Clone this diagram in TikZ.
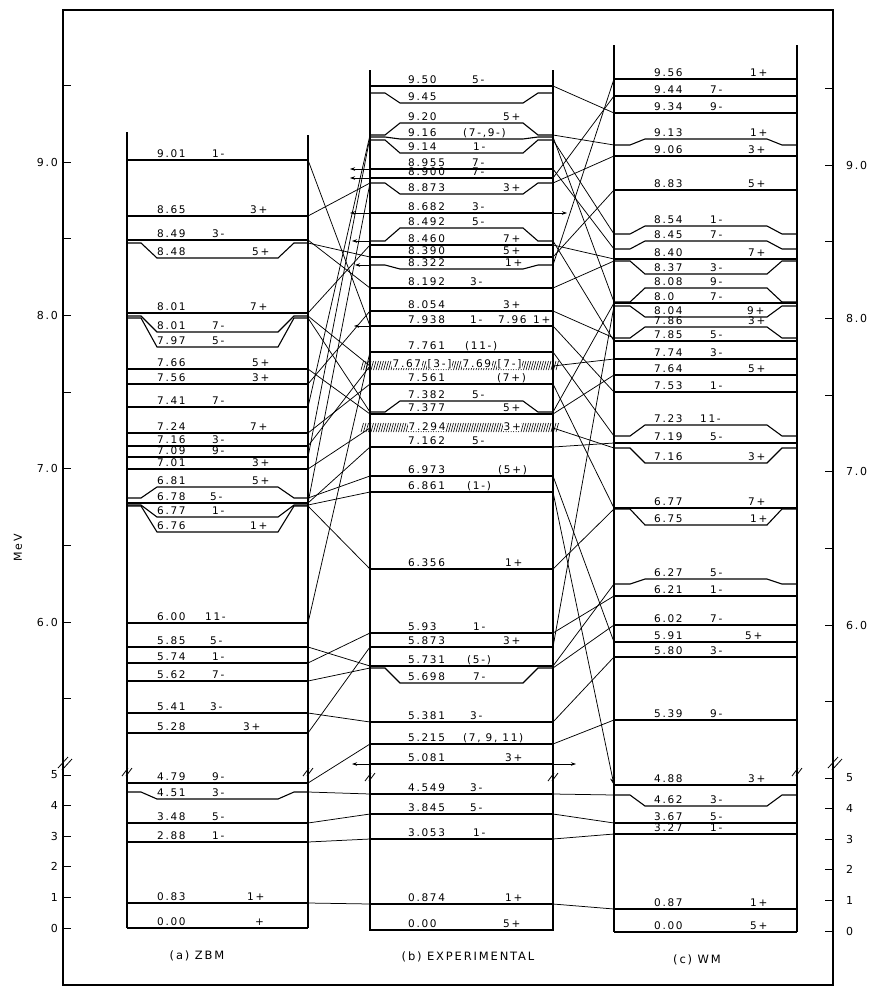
\documentclass[tikz,border=0pt]{standalone}
\usepackage{fontspec}
\newfontfamily\leroy[LetterSpace=16]{DejaVu Sans}
\usetikzlibrary{arrows.meta}

\begin{document}
\begin{tikzpicture}[x=1pt,y=-1pt,
  lvl/.style={line width=1.1pt},
  conn/.style={line width=0.75pt},
  colline/.style={line width=1.4pt},
  elab/.style={anchor=base west,inner sep=0pt,font=\leroy\fontsize{10.5}{12}\selectfont},
  hlab/.style={elab,fill=white,inner sep=0.5pt},
  axlab/.style={inner sep=0pt,font=\leroy\fontsize{11}{12}\selectfont},
  captxt/.style={inner sep=0pt,font=\leroy\fontsize{11.5}{12}\selectfont},
  brk/.style={line width=0.8pt},
  outarrow/.style={-{Stealth[length=5pt,width=3.5pt]}}]
\useasboundingbox (0,0) rectangle (891,988);

% frame and energy scales
\draw[colline] (63,10) rectangle (833,985);
\foreach \t in {85.3,162,238.7,315.3,392,468.7,545.3,622,698.7,775,805.6,836.2,866.8,897.4,928}{
  \draw[line width=0.8pt] (63,\t) -- (71,\t);
  \draw[line width=0.8pt] (825,\t+3) -- (833,\t+3);
}
\foreach \v/\t in {9.0/162,8.0/315.3,7.0/468.7,6.0/622,5/775,4/805.6,3/836.2,2/866.8,1/897.4,0/928}{
  \node[axlab,anchor=east] at (58,\t) {\v};
  \node[axlab,anchor=west] at (846,\t+3) {\v};
}
\node[axlab,rotate=90] (mev) at (18,548) {MeV};
\draw[brk] (58,768) -- (68,757);
\draw[brk] (62,770) -- (72,759);
\draw[brk] (828,768) -- (838,757);
\draw[brk] (832,770) -- (842,759);

% columns
\draw[colline] (127,132) -- (127,928);
\draw[colline] (308,135) -- (308,928);
\draw[colline] (370,70) -- (370,931);
\draw[colline] (553,70) -- (553,931);
\draw[colline] (614,45) -- (614,932);
\draw[colline] (797,45) -- (797,932);
\foreach \bx/\by in {127/772,308/772,370/777,553/777,797/772}{
  \draw[brk] (\bx-5,\by+4) -- (\bx+1,\by-4);
  \draw[brk] (\bx-1,\by+4) -- (\bx+5,\by-4);
}

% (a) ZBM levels: name/edge y/shown y/energy/spin/spin x
\foreach \n/\y/\d/\e/\s/\sx in {
  901/160/160/9.01/1-/212, 865/216/216/8.65/3+/250, 849/240/240/8.49/3-/212,
  848/243/258/8.48/5+/252, 801p/313/313/8.01/7+/250, 801m/316/332/8.01/7-/212,
  797/318/347/7.97/5-/212, 766/369/369/7.66/5+/252, 756/384/384/7.56/3+/252,
  741/407/407/7.41/7-/212, 724/433/433/7.24/7+/250, 716/446/446/7.16/3-/212,
  709/457/457/7.09/9-/212, 701/469/469/7.01/3+/252, 681/498/487/6.81/5+/252,
  678/503/503/6.78/5-/210, 677/505/517/6.77/1-/212, 676/506/532/6.76/1+/250,
  600/623/623/6.00/11-/205, 585/647/647/5.85/5-/210, 574/663/663/5.74/1-/212,
  562/681/681/5.62/7-/212, 541/713/713/5.41/3-/210, 528/733/733/5.28/3+/243,
  479/783/783/4.79/9-/212, 451/792/799/4.51/3-/212, 348/823/823/3.48/5-/212,
  288/842/842/2.88/1-/212, 083/903/903/0.83/1+/247, 000/928/928/0.00/+/255}{
  \draw[lvl] (127,\y) -- (141,\y) -- (157,\d) -- (278,\d) -- (294,\y) -- (308,\y);
  \coordinate (aL\n) at (127,\y);
  \coordinate (aR\n) at (308,\y);
  \node[elab] at (157,\d-3) {\e};
  \node[elab] at (\sx,\d-3) {\s};
}

% (b) experimental levels
\foreach \n/\y/\d/\e/\s/\sx in {
  950/86/86/9.50/5-/472, 945/93/103/9.45/{}/472, 920/135/123/9.20/5+/503,
  916/137/139/9.16/{(7-,9-)}/463, 914/140/153/9.14/1-/473,
  8955/169/169/8.955/7-/472, 8900/178/178/8.900/7-/472, 8873/183/194/8.873/3+/503,
  8682/213/213/8.682/3-/472, 8492/241/228/8.492/5-/472, 8460/245/245/8.460/7+/503,
  8390/257/257/8.390/5+/503, 8322/265/269/8.322/1+/505, 8192/288/288/8.192/3-/470,
  8054/311/311/8.054/3+/503, 7938/326/326/7.938/1-/470, 7761/352/352/7.761/(11-)/465,
  7561/384/384/7.561/(7+)/497, 7382/412/401/7.382/5-/472, 7377/414/414/7.377/5+/503,
  7162/447/447/7.162/5-/472, 6973/476/476/6.973/(5+)/498, 6861/492/492/6.861/(1-)/467,
  6356/569/569/6.356/1+/505, 593/633/633/5.93/1-/473, 5873/647/647/5.873/3+/503,
  5731/666/666/5.731/(5-)/467, 5698/668/683/5.698/7-/473, 5381/722/722/5.381/3-/470,
  5215/744/744/5.215/{(7, 9, 11)}/463, 5081/764/764/5.081/3+/505,
  4549/794/794/4.549/3-/470, 3845/814/814/3.845/5-/470, 3053/839/839/3.053/1-/473,
  0874/904/904/0.874/1+/505, 000/930/930/0.00/5+/503}{
  \draw[lvl] (370,\y) -- (385,\y) -- (400,\d) -- (523,\d) -- (538,\y) -- (553,\y);
  \coordinate (bL\n) at (370,\y);
  \coordinate (bR\n) at (553,\y);
  \node[elab] at (408,\d-3) {\e};
  \node[elab] at (\sx,\d-3) {\s};
}
\node[elab] at (498,323) {7.96};
\node[elab] at (533,323) {1+};

% hatched (doubtful) levels
\coordinate (bL767) at (370,366);
\coordinate (bR767) at (553,366);
\coordinate (bL7294) at (370,428);
\coordinate (bR7294) at (553,428);
\foreach \hx in {361,363.5,...,556}{
  \draw[line width=0.6pt] (\hx,370) -- (\hx+2.5,361);
  \draw[line width=0.6pt] (\hx,432) -- (\hx+2.5,423);
}
\node[hlab] at (392,367) {7.67};
\node[hlab] at (427,367) {[3-]};
\node[hlab] at (462,367) {7.69};
\node[hlab] at (497,367) {[7-]};
\node[hlab] at (408,430) {7.294};
\node[hlab] at (503,430) {3+};

% levels with no partner
\coordinate (w8955) at (350,169);
\coordinate (w8900) at (350,178);
\coordinate (w8682) at (350,213);
\coordinate (e8682) at (567,213);
\coordinate (w8492) at (352,241);
\coordinate (w8322) at (355,265);
\coordinate (w7938) at (354,326);
\coordinate (w5081) at (352,764);
\coordinate (e5081) at (576,764);
\draw[conn,outarrow] (bL8955) -- (w8955);
\draw[conn,outarrow] (bL8900) -- (w8900);
\draw[conn,outarrow] (bL8682) -- (w8682);
\draw[conn,outarrow] (bR8682) -- (e8682);
\draw[conn,outarrow] (bL8492) -- (w8492);
\draw[conn,outarrow] (bL8322) -- (w8322);
\draw[conn,outarrow] (bL7938) -- (w7938);
\draw[conn,outarrow] (bL5081) -- (w5081);
\draw[conn,outarrow] (bR5081) -- (e5081);

% (c) WM levels
\foreach \n/\y/\d/\e/\s/\sx in {
  956/79/79/9.56/1+/750, 944/96/96/9.44/7-/710, 934/113/113/9.34/9-/710,
  913/145/139/9.13/1+/750, 906/156/156/9.06/3+/748, 883/190/190/8.83/5+/748,
  854/234/226/8.54/1-/710, 845/249/241/8.45/7-/710, 840/259/259/8.40/7+/748,
  837/261/274/8.37/3-/710, 808/302/288/8.08/9-/710, 800/303/303/8.0/7-/710,
  804/306/317/8.04/9+/747, 786/338/327/7.86/3+/748, 785/341/341/7.85/5-/710,
  774/359/359/7.74/3-/710, 764/375/375/7.64/5+/748, 753/392/392/7.53/1-/710,
  723/436/425/7.23/11-/700, 719/443/443/7.19/5-/710, 716/448/463/7.16/3+/748,
  677/508/508/6.77/7+/748, 675/509/525/6.75/1+/750, 627/584/579/6.27/5-/710,
  621/596/596/6.21/1-/710, 602/625/625/6.02/7-/710, 591/642/642/5.91/5+/745,
  580/657/657/5.80/3-/710, 539/720/720/5.39/9-/710, 488/785/785/4.88/3+/748,
  462/795/806/4.62/3-/710, 367/823/823/3.67/5-/710, 327/834/834/3.27/1-/710,
  087/909/909/0.87/1+/750, 000/932/932/0.00/5+/750}{
  \draw[lvl] (614,\y) -- (630,\y) -- (645,\d) -- (767,\d) -- (782,\y) -- (797,\y);
  \coordinate (cL\n) at (614,\y);
  \coordinate (cR\n) at (797,\y);
  \node[elab] at (654,\d-3) {\e};
  \node[elab] at (\sx,\d-3) {\s};
}

% ZBM to experiment
\foreach \p/\q in {901/7938, 865/8873, 849/8192, 848/8390, 801p/8460, 801m/767,
  797/7382, 766/7377, 756/8054, 741/920, 724/7561, 716/767, 709/916, 701/7294,
  681/6973, 678/7162, 677/6861, 676/6356, 678/8873, 600/7761, 585/5731, 574/593,
  562/5698, 541/5381, 528/5873, 479/5215, 451/4549, 348/3845, 288/3053, 083/0874}{
  \draw[conn] (aR\p) -- (bL\q);
}

% experiment to WM
\foreach \p/\q in {950/934, 920/913, 916/808, 914/854, 8955/845, 8900/944,
  8873/906, 8460/840, 8390/883, 8322/956, 8192/837, 8054/786, 8492/785,
  7938/753, 7761/723, 767/774, 7561/677, 7382/800, 7377/764, 7294/716,
  7162/719, 6973/591, 6356/675, 593/621, 5873/804, 5731/627, 5698/602,
  5381/580, 5215/539, 4549/462, 3845/367, 3053/327, 0874/087}{
  \draw[conn] (bR\p) -- (cL\q);
}
\draw[conn,-{Stealth[length=7pt,width=5pt]}] (bR6861) -- (cL488);

% captions
\node[captxt] (capa) at (197,956) {(a) ZBM};
\node[captxt] (capb) at (468,957) {(b) EXPERIMENTAL};
\node[captxt] (capc) at (697,960) {(c) WM};
\end{tikzpicture}
\end{document}
